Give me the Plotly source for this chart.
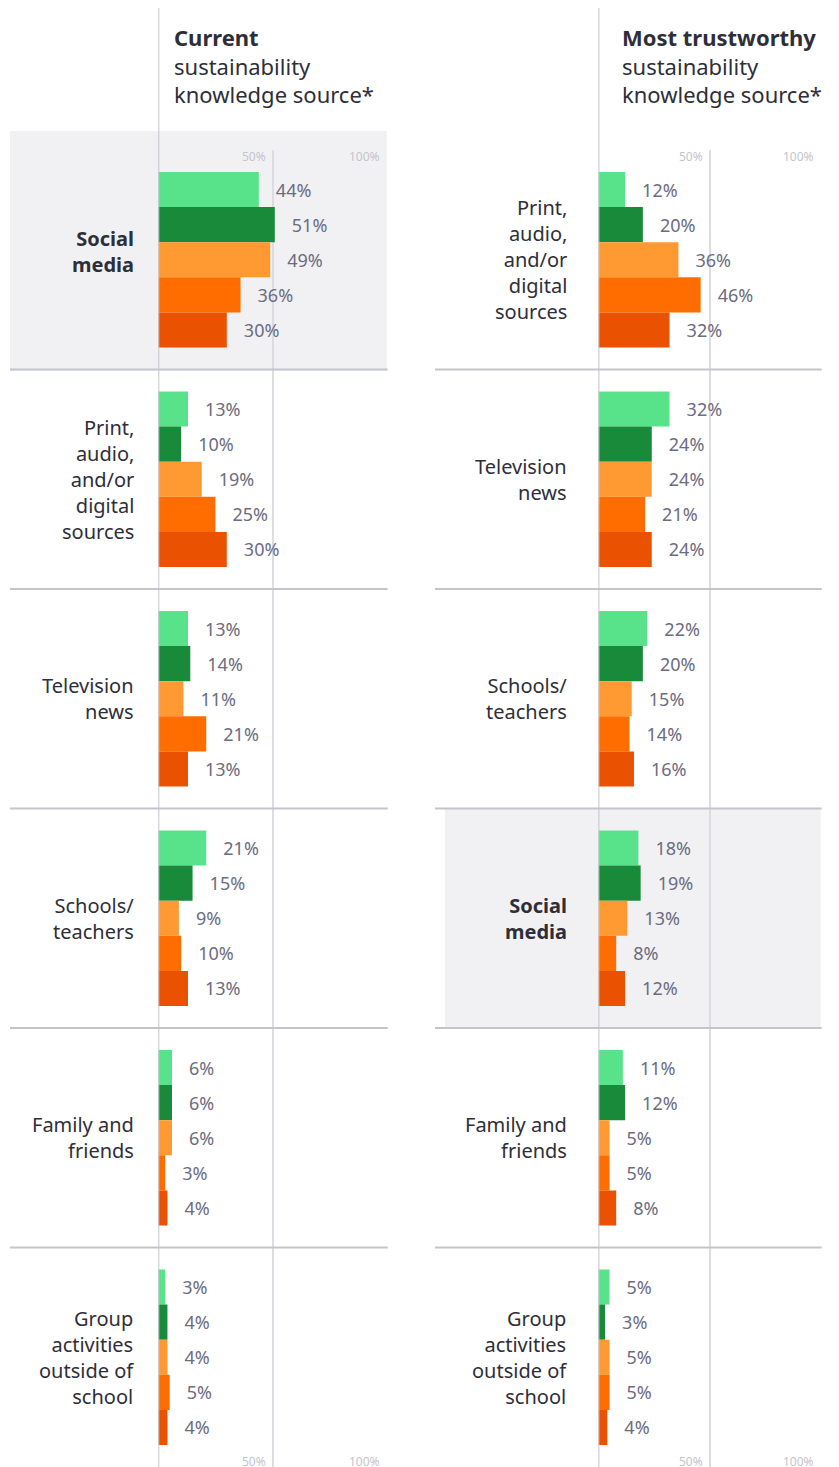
import plotly.graph_objects as go

# the page puts the plot 8px in from the top-left corner, so the figure is
# made 8px smaller and every pixel position below is shifted by that offset
W, H = 839, 1467
PAGE_OFFSET = 8
FIG_W, FIG_H = W - PAGE_OFFSET, H - PAGE_OFFSET
FONT = "Noto Sans"

# five respondent groups, drawn top to bottom inside each source
SERIES = ["Group 1", "Group 2", "Group 3", "Group 4", "Group 5"]
COLORS = ["#58e38a", "#188a3a", "#ff9a33", "#ff6d00", "#ea5100"]

CURRENT_SOURCES = [
    "Social media",
    "Print, audio, and/or digital sources",
    "Television news",
    "Schools/teachers",
    "Family and friends",
    "Group activities outside of school",
]
CURRENT_VALUES = [
    [44, 13, 13, 21, 6, 3],
    [51, 10, 14, 15, 6, 4],
    [49, 19, 11, 9, 6, 4],
    [36, 25, 21, 10, 3, 5],
    [30, 30, 13, 13, 4, 4],
]

TRUSTED_SOURCES = [
    "Print, audio, and/or digital sources",
    "Television news",
    "Schools/teachers",
    "Social media",
    "Family and friends",
    "Group activities outside of school",
]
TRUSTED_VALUES = [
    [12, 32, 22, 18, 11, 5],
    [20, 24, 20, 19, 12, 3],
    [36, 24, 15, 13, 5, 5],
    [46, 21, 14, 8, 5, 5],
    [32, 24, 16, 12, 8, 4],
]

LABEL_TEXT = {
    "Social media": "<b>Social<br>media</b>",
    "Print, audio, and/or digital sources": "Print,<br>audio,<br>and/or<br>digital<br>sources",
    "Television news": "Television<br>news",
    "Schools/teachers": "Schools/<br>teachers",
    "Family and friends": "Family and<br>friends",
    "Group activities outside of school": "Group<br>activities<br>outside of<br>school",
}
HIGHLIGHT = "Social media"

TITLES = [
    "<b>Current</b><br>sustainability<br>knowledge source*",
    "<b>Most trustworthy</b><br>sustainability<br>knowledge source*",
]

INK = "#2e2e38"
VALUE_INK = "#6c6c80"
TICK_INK = "#c4c4cd"
GRID = "#dcdce3"
RULE = "#c4c4cd"
SHADE = "#f1f1f4"
NBSP = "\u00a0"


def px_x(p):
    return min(1, max(0, (p - PAGE_OFFSET) / FIG_W))


def px_y(p):
    return min(1, max(0, 1 - (p - PAGE_OFFSET) / FIG_H))


Y_TOP = 150  # pixel top of the bar area; rows run to the bottom edge
Y_DOMAIN = [px_y(H), px_y(Y_TOP)]

# panel geometry in pixels: zero line, 100% line, rule start, label edge, title x
PANELS = [
    dict(x0=158.3, x100=386.7, rule0=10, label=136, title=172),
    dict(x0=598.4, x100=820.7, rule0=435, label=569, title=620),
]

fig = go.Figure()
shapes, annotations = [], []

for p, (sources, values) in enumerate([(CURRENT_SOURCES, CURRENT_VALUES),
                                        (TRUSTED_SOURCES, TRUSTED_VALUES)]):
    g = PANELS[p]
    xa = "x" if p == 0 else "x2"
    ya = "y" if p == 0 else "y2"
    for name, color, vals in zip(SERIES, COLORS, values):
        fig.add_trace(go.Bar(
            y=sources, x=vals, name=name, orientation="h",
            marker=dict(color=color, line=dict(width=0)),
            text=[f"{NBSP * 3}{v}%" for v in vals],
            textposition="outside", constraintext="none", cliponaxis=False,
            textfont=dict(family=FONT, size=18, color=VALUE_INK),
            xaxis=xa, yaxis=ya, showlegend=False, hoverinfo="skip",
        ))

    axis_suffix = "" if p == 0 else "2"
    fig.update_layout(**{
        f"xaxis{axis_suffix}": dict(
            domain=[px_x(g["x0"]), px_x(g["x100"])], range=[0, 100],
            anchor=ya, tickvals=[50, 100], showticklabels=False, ticks="",
            showgrid=True, gridcolor=GRID, gridwidth=2, zeroline=False,
            showline=False, fixedrange=True,
        ),
        f"yaxis{axis_suffix}": dict(
            domain=Y_DOMAIN, anchor=xa, type="category",
            categoryorder="array", categoryarray=sources,
            range=[len(sources) - 0.5, -0.5], showticklabels=False,
            showgrid=False, zeroline=False, showline=False, ticks="",
            fixedrange=True,
        ),
    })

    # highlighted row background
    hi = sources.index(HIGHLIGHT)
    if hi == 0:
        shapes.append(dict(type="rect", xref="paper", yref="paper",
                           x0=px_x(g["rule0"]), x1=px_x(g["x100"]),
                           y0=px_y(371), y1=px_y(131),
                           fillcolor=SHADE, line=dict(width=0), layer="below"))
    else:
        shapes.append(dict(type="rect", xref="paper", yref=ya,
                           x0=px_x(g["rule0"] + 10), x1=px_x(g["x100"]),
                           y0=hi - 0.5, y1=hi + 0.5,
                           fillcolor=SHADE, line=dict(width=0), layer="below"))

    # row separators
    for i in range(len(sources) - 1):
        shapes.append(dict(type="line", xref="paper", yref=ya,
                           x0=px_x(g["rule0"]), x1=px_x(g["x100"] + 1),
                           y0=i + 0.5, y1=i + 0.5,
                           line=dict(color=RULE, width=2)))

    # zero line running the full height
    shapes.append(dict(type="line", xref=xa, yref="paper", x0=0, x1=0,
                       y0=0, y1=px_y(5), line=dict(color=RULE, width=2)))

    # category labels
    for i, s in enumerate(sources):
        annotations.append(dict(
            xref="paper", yref=ya, x=px_x(g["label"]), y=s,
            xanchor="right", yanchor="middle", align="right",
            text=LABEL_TEXT[s], showarrow=False,
            yshift=8 if (s == HIGHLIGHT and i == 0) else 0,
            font=dict(family=FONT, size=20, color=INK),
        ))

    # percentage scale labels top and bottom
    for tv in (50, 100):
        for yy in (157, 1461):
            annotations.append(dict(
                xref=xa, yref="paper", x=tv, y=px_y(yy),
                xanchor="right", yanchor="middle", xshift=-5,
                text=f"{tv}%", showarrow=False,
                font=dict(family=FONT, size=12, color=TICK_INK),
            ))

    # panel title
    annotations.append(dict(
        xref="paper", yref="paper", x=px_x(g["title"]), y=px_y(66),
        xanchor="left", yanchor="middle", align="left",
        text=TITLES[p], showarrow=False,
        font=dict(family=FONT, size=22, color=INK),
    ))

fig.update_layout(
    width=FIG_W, height=FIG_H, autosize=False,
    margin=dict(l=0, r=0, t=0, b=0),
    paper_bgcolor="white", plot_bgcolor="rgba(0,0,0,0)",
    barmode="group", bargap=0.2, bargroupgap=0,
    shapes=shapes, annotations=annotations,
    font=dict(family=FONT, color=INK),
    showlegend=False,
)

fig.write_html("out.html")
